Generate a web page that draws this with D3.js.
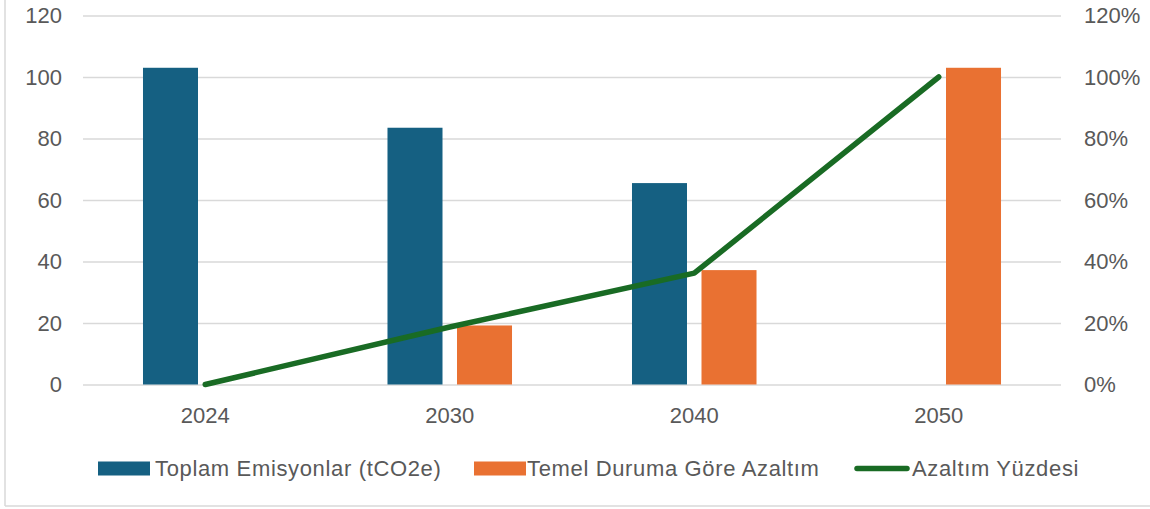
<!DOCTYPE html>
<html>
<head>
<meta charset="utf-8">
<script src="https://cdn.jsdelivr.net/npm/d3@7"></script>
<style>
    html, body { margin: 0; padding: 0; background: #fff; }
    svg { display: block; font-family: "Liberation Sans", Arial, sans-serif; }
</style>
</head>
<body>
<div id="chart"></div>
<script>
'use strict';

const years = ['2024', '2030', '2040', '2050'];
const emissions = [103, 83.5, 65.5, 0];
const reductions = [0, 19.2, 37.2, 103];
const reductionPct = [0, 0.187, 0.362, 1.0];
const leftTicks = [0, 20, 40, 60, 80, 100, 120];
const rightTicks = [0, 0.2, 0.4, 0.6, 0.8, 1.0, 1.2];
const seriesNames = ['Toplam Emisyonlar (tCO2e)', 'Temel Duruma Göre Azaltım', 'Azaltım Yüzdesi'];

const settings = {
    width: 1150,
    height: 509,
    elId: '#chart',
};

const margin = { top: 15.5, right: 89, bottom: 124.5, left: 83 };
const innerW = settings.width - margin.left - margin.right;
const innerH = settings.height - margin.top - margin.bottom;

const colors = {
    blue: '#156082',
    orange: '#E97132',
    green: '#196B24',
    grid: '#d9d9d9',
    text: '#595959',
};

const svg = d3.select(settings.elId)
    .append('svg')
    .attr('width', settings.width)
    .attr('height', settings.height);

// chart frame (only left and bottom edges show)
svg.append('line')
    .attr('x1', 5).attr('x2', 5)
    .attr('y1', 0).attr('y2', 506)
    .attr('stroke', colors.grid).attr('stroke-width', 1.5);
svg.append('line')
    .attr('x1', 5).attr('x2', settings.width)
    .attr('y1', 506).attr('y2', 506)
    .attr('stroke', colors.grid).attr('stroke-width', 1.5);

const g = svg.append('g')
    .attr('transform', `translate(${margin.left},${margin.top})`);

// scales
const x = d3.scaleBand()
    .domain(years)
    .range([0, innerW])
    .padding(0);

const xSub = d3.scaleBand()
    .domain(['emissions', 'reductions'])
    .range([0, x.bandwidth()])
    .paddingInner(0.2086)
    .paddingOuter(0.863);

const y = d3.scaleLinear().domain([0, 120]).range([innerH, 0]);
const yRight = d3.scaleLinear().domain([0, 1.2]).range([innerH, 0]);

// gridlines
g.append('g')
    .attr('class', 'grid')
    .call(d3.axisLeft(y).tickValues(leftTicks).tickSize(-innerW).tickFormat(''))
    .call(s => s.select('.domain').remove())
    .call(s => s.selectAll('line').attr('stroke', colors.grid).attr('stroke-width', 1.5));

// left axis
g.append('g')
    .call(d3.axisLeft(y).tickValues(leftTicks).tickSize(0).tickPadding(21))
    .call(s => s.select('.domain').remove())
    .call(s => s.selectAll('text')
        .attr('fill', colors.text)
        .style('font-size', '22px')
        .style('font-family', '"Liberation Sans", Arial, sans-serif'));

// right axis
g.append('g')
    .attr('transform', `translate(${innerW},0)`)
    .call(d3.axisRight(yRight).tickValues(rightTicks).tickSize(0).tickPadding(23).tickFormat(d3.format('.0%')))
    .call(s => s.select('.domain').remove())
    .call(s => s.selectAll('text')
        .attr('fill', colors.text)
        .style('font-size', '22px')
        .style('font-family', '"Liberation Sans", Arial, sans-serif'));

// bottom axis
g.append('g')
    .attr('transform', `translate(0,${innerH})`)
    .call(d3.axisBottom(x).tickSize(0).tickPadding(23))
    .call(s => s.select('.domain').remove())
    .call(s => s.selectAll('text')
        .attr('fill', colors.text)
        .style('font-size', '22px')
        .style('font-family', '"Liberation Sans", Arial, sans-serif'));

// bars
const barData = years.map((yr, i) => ({ year: yr, emissions: emissions[i], reductions: reductions[i] }));

const groups = g.append('g')
    .attr('id', 'bars')
    .selectAll('g')
    .data(barData)
    .enter()
    .append('g')
    .attr('transform', d => `translate(${x(d.year)},0)`);

groups.selectAll('rect')
    .data(d => [
        { key: 'emissions', value: d.emissions },
        { key: 'reductions', value: d.reductions },
    ].filter(e => e.value > 0))
    .enter()
    .append('rect')
    .attr('x', d => xSub(d.key))
    .attr('width', xSub.bandwidth())
    .attr('y', d => y(d.value))
    .attr('height', d => innerH - y(d.value))
    .attr('fill', d => d.key === 'emissions' ? colors.blue : colors.orange);

// percentage line
const line = d3.line()
    .x((d, i) => x(years[i]) + x.bandwidth() / 2)
    .y(d => yRight(d));

g.append('path')
    .datum(reductionPct)
    .attr('d', line)
    .attr('fill', 'none')
    .attr('stroke', colors.green)
    .attr('stroke-width', 5.5)
    .attr('stroke-linecap', 'round')
    .attr('stroke-linejoin', 'round');

// legend
const legendItems = [
    { name: seriesNames[0], type: 'rect', color: colors.blue, x: 98, textX: 155 },
    { name: seriesNames[1], type: 'rect', color: colors.orange, x: 474, textX: 527 },
    { name: seriesNames[2], type: 'line', color: colors.green, x: 857, textX: 912 },
];
const legendY = 468.5;

const legend = svg.append('g').attr('id', 'legend');
legendItems.forEach(item => {
    if (item.type === 'rect') {
        legend.append('rect')
            .attr('x', item.x)
            .attr('y', legendY - 7)
            .attr('width', 52)
            .attr('height', 14)
            .attr('fill', item.color);
    } else {
        legend.append('line')
            .attr('x1', item.x).attr('x2', item.x + 50)
            .attr('y1', legendY).attr('y2', legendY)
            .attr('stroke', item.color)
            .attr('stroke-width', 5.5)
            .attr('stroke-linecap', 'round');
    }
    legend.append('text')
        .attr('x', item.textX)
        .attr('y', legendY)
        .attr('dy', '0.36em')
        .attr('fill', colors.text)
        .style('font-size', '22px')
        .style('letter-spacing', '0.65px')
        .text(item.name);
});
</script>
</body>
</html>
